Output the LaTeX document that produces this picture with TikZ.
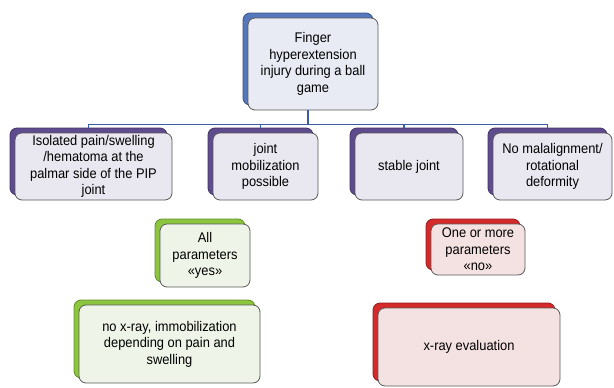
\documentclass[tikz,border=0pt]{standalone}
\usepackage{fontspec}
\setmainfont{Liberation Sans}
\newfontfamily\boxfont[FakeStretch=0.92]{Liberation Sans}
\usetikzlibrary{shadows}

\definecolor{linkblue}{HTML}{3B5CA0}
\definecolor{topback}{HTML}{5577BB}
\definecolor{topfill}{HTML}{E8EBF4}
\definecolor{purpleback}{HTML}{5E4C8E}
\definecolor{purplefill}{HTML}{E9E7EF}
\definecolor{greenback}{HTML}{8CC63E}
\definecolor{greenfill}{HTML}{EFF4E8}
\definecolor{redback}{HTML}{D42A2A}
\definecolor{redfill}{HTML}{F4E1E2}

\tikzset{
    card/.style={draw=black!65, line width=0.8pt, rounded corners=7pt,
        align=center, inner sep=2pt, font=\boxfont\fontsize{14}{16.5}\selectfont},
    backcard/.style={general shadow={fill=#1, draw=#1!70!black,
        shadow xshift=-5pt, shadow yshift=5pt}},
    topcard/.style={card, fill=topfill, backcard=topback},
    stepcard/.style={card, fill=purplefill, backcard=purpleback,
        minimum height=67pt},
    yescard/.style={card, fill=greenfill, backcard=greenback},
    nocard/.style={card, fill=redfill, backcard=redback},
    link/.style={draw=linkblue, line width=1.2pt}
}

\begin{document}
\begin{tikzpicture}[x=1pt,y=-1pt]
    \useasboundingbox (0,0) rectangle (614,388);
    % root
    \node[topcard, minimum width=130pt, minimum height=92pt] (injury) at (313,64)
        {Finger\\hyperextension\\injury during a ball\\game};
    % criteria
    \node[stepcard, minimum width=157pt] (pain) at (93.5,166.5)
        {Isolated pain/swelling\\/hematoma at the\\palmar side of the PIP\\joint};
    \node[stepcard, minimum width=105pt] (mobil) at (265.5,166.5)
        {joint\\mobilization\\possible};
    \node[stepcard, minimum width=108pt] (stable) at (409,166.5)
        {stable joint};
    \node[stepcard, minimum width=119pt] (align) at (552.5,166.5)
        {No malalignment/\\rotational\\deformity};
    % outcome
    \node[yescard, minimum width=90pt, minimum height=63pt] (allyes) at (205,255.5)
        {All\\parameters\\«yes»};
    \node[nocard, minimum width=94pt, minimum height=51pt] (someno) at (478,249.5)
        {One or more\\parameters\\«no»};
    \node[yescard, minimum width=181pt, minimum height=78pt] (noxray) at (169.5,344)
        {no x-ray, immobilization\\depending on pain and\\swelling};
    \node[nocard, minimum width=182pt, minimum height=78pt] (xray) at (469,347)
        {x-ray evaluation};

    \foreach \c in {pain,mobil,stable,align}
        \draw[link] ([xshift=-5pt]injury.south) -- ++(0,14)
            -| ([xshift=-5pt,yshift=5pt]\c.north);
\end{tikzpicture}
\end{document}
